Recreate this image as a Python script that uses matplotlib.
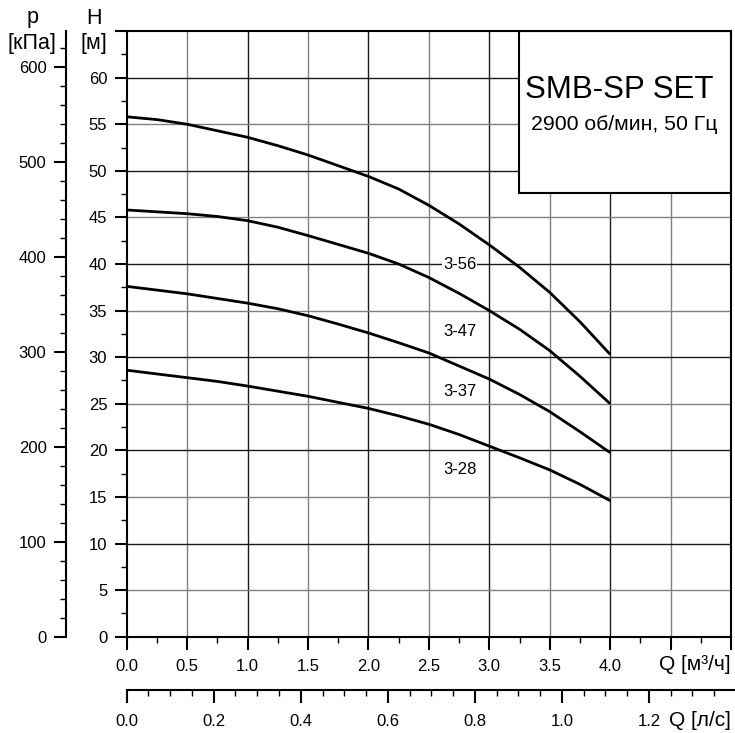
import matplotlib
matplotlib.use("Agg")
import matplotlib.pyplot as plt
from matplotlib.patches import Rectangle
from matplotlib.ticker import MultipleLocator, FixedLocator
import numpy as np

plt.rcParams["font.family"] = ["Liberation Sans", "DejaVu Sans"]

# ── Data ─────────────────────────────────────────────────────────────────────
Q = [0.0, 0.25, 0.5, 0.75, 1.0, 1.25, 1.5, 1.75, 2.0,
     2.25, 2.5, 2.75, 3.0, 3.25, 3.5, 3.75, 4.0]
H_356 = [55.8, 55.5, 55.0, 54.3, 53.6, 52.7, 51.7, 50.55, 49.4,
         48.05, 46.3, 44.3, 42.05, 39.65, 36.95, 33.8, 30.3]
H_347 = [45.8, 45.6, 45.4, 45.1, 44.65, 43.95, 43.05, 42.1, 41.15,
         40.0, 38.55, 36.85, 35.0, 33.0, 30.7, 27.95, 25.0]
H_337 = [37.6, 37.2, 36.8, 36.3, 35.8, 35.2, 34.45, 33.55, 32.6,
         31.55, 30.45, 29.05, 27.65, 26.0, 24.15, 22.0, 19.75]
H_328 = [28.6, 28.2, 27.8, 27.4, 26.9, 26.35, 25.8, 25.15, 24.5,
         23.7, 22.8, 21.7, 20.45, 19.2, 17.9, 16.35, 14.6]
curves = {"3-56": H_356, "3-47": H_347, "3-37": H_337, "3-28": H_328}
label_pos = {"3-56": (2.755, 40.0), "3-47": (2.755, 32.8),
             "3-37": (2.755, 26.3), "3-28": (2.755, 17.9)}

Q_MAX, H_MAX = 5.0, 65.0
RHO_G = 9.81           # kPa per metre of head
M3H_PER_LS = 3.6

# ── Figure ───────────────────────────────────────────────────────────────────
fig = plt.figure(figsize=(7.35, 7.33), dpi=100)
L, B, W, Ht = 0.1724, 0.1314, 0.8222, 0.8262
ax = fig.add_axes([L, B, W, Ht])
ax.set_xlim(0, Q_MAX)
ax.set_ylim(0, H_MAX)

# grid: darker on whole numbers / multiples of ten
for q in np.arange(0.5, Q_MAX + 0.01, 0.5):
    c = "#1a1a1a" if abs(q - round(q)) < 1e-6 else "#808080"
    ax.axvline(q, color=c, lw=1.0, zorder=1)
for h in np.arange(5, H_MAX - 1, 5):
    c = "#1a1a1a" if h % 10 == 0 else "#808080"
    ax.axhline(h, color=c, lw=1.0, zorder=1)

for name, hv in curves.items():
    ax.plot(Q, hv, color="black", lw=2.0, zorder=3,
            solid_capstyle="butt", solid_joinstyle="round")
    x, y = label_pos[name]
    ax.text(x, y, name, fontsize=12, ha="center", va="center", zorder=4,
            bbox=dict(facecolor="white", edgecolor="none", pad=0.5))

# title box
ax.add_patch(Rectangle((3.245, 47.6), Q_MAX - 3.245, H_MAX - 47.6,
                       facecolor="white", edgecolor="black", lw=1.5, zorder=5))
ax.text(4.075, 58.7, "SMB-SP SET", fontsize=22.5, ha="center", va="center", zorder=6)
ax.text(4.118, 55.0, "2900 об/мин, 50 Гц", fontsize=15.3, ha="center", va="center", zorder=6)

for s in ax.spines.values():
    s.set_linewidth(1.5)
    s.set_zorder(6)

ticks_q = np.arange(0, Q_MAX + 0.01, 0.5)
ax.set_xticks(ticks_q)
ax.set_xticklabels([f"{v:.1f}" if v <= 4.0 else "" for v in ticks_q])
ax.xaxis.set_minor_locator(MultipleLocator(0.25))
ticks_h = np.arange(0, H_MAX + 0.1, 5)
ax.set_yticks(ticks_h)
ax.set_yticklabels([f"{int(v)}" if v <= 60 else "" for v in ticks_h])
ax.yaxis.set_minor_locator(MultipleLocator(2.5))
ax.tick_params(axis="both", which="major", direction="out", length=9, width=1.5,
               labelsize=12, pad=5)
ax.tick_params(axis="both", which="minor", direction="out", length=4.5, width=1.0)
ax.tick_params(top=False, right=False, which="both")
ax.tick_params(axis="x", pad=7)

# pressure axis on the far left
axp = fig.add_axes([66 / 735, B, 0.0005, Ht])
axp.set_ylim(0, H_MAX * RHO_G)
axp.set_xticks([])
for k in ("top", "right", "bottom"):
    axp.spines[k].set_visible(False)
axp.spines["left"].set_linewidth(1.5)
axp.yaxis.set_major_locator(MultipleLocator(100))
axp.yaxis.set_minor_locator(MultipleLocator(20))
axp.tick_params(axis="y", which="major", direction="out", length=9, width=1.5,
                labelsize=12, pad=5)
axp.tick_params(axis="y", which="minor", direction="out", length=4.5, width=1.0)
axp.patch.set_visible(False)

# second flow axis in l/s
axq = fig.add_axes([L, 43 / 733, W * 1.005, 0.0005])
axq.set_xlim(0, Q_MAX / M3H_PER_LS * 1.005)
axq.set_yticks([])
for k in ("top", "right", "left"):
    axq.spines[k].set_visible(False)
axq.spines["bottom"].set_linewidth(1.5)
ls_major = np.arange(0, 1.21, 0.2)
axq.xaxis.set_major_locator(FixedLocator(ls_major))
axq.set_xticklabels([f"{v:.1f}" for v in ls_major])
axq.xaxis.set_minor_locator(MultipleLocator(0.05))
axq.tick_params(axis="x", which="major", direction="out", length=9, width=1.5,
                labelsize=12, pad=8)
axq.tick_params(axis="x", which="minor", direction="out", length=4.5, width=1.0)
axq.patch.set_visible(False)

# axis captions
fig.text(33 / 735, 1 - 18 / 733, "p", fontsize=15.5, ha="center", va="center")
fig.text(32 / 735, 1 - 43 / 733, "[кПа]", fontsize=15.5, ha="center", va="center")
fig.text(94 / 735, 1 - 18 / 733, "H", fontsize=15.5, ha="center", va="center")
fig.text(94 / 735, 1 - 43 / 733, "[м]", fontsize=15.5, ha="center", va="center")
fig.text(731 / 735, 1 - 665 / 733, "Q [м³/ч]", fontsize=15, ha="right", va="center")
fig.text(731 / 735, 1 - 720 / 733, "Q [л/с]", fontsize=15, ha="right", va="center")

fig.savefig("out.png", dpi=100, facecolor="white")
